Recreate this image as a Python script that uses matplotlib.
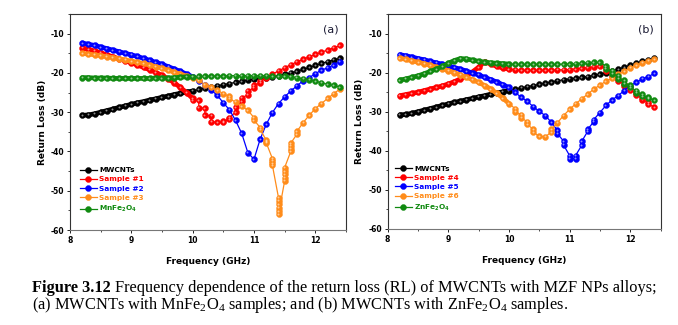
import numpy as np
import matplotlib
matplotlib.use('Agg')
import matplotlib.pyplot as plt
from matplotlib.ticker import MultipleLocator
from matplotlib.transforms import offset_copy

plt.rcParams['font.family'] = 'DejaVu Sans'
plt.rcParams['axes.unicode_minus'] = False

# frequency grids (GHz): smooth part and the measured "bead" part
freq_dense = np.round(np.arange(8.2, 9.95, 0.1), 1)
freq_beads = np.round(np.arange(10.0, 12.45, 0.1), 1)

# ---- panel (a): MWCNTs with MnFe2O4 ----
mwcnt_dense = [-30.8, -30.7, -30.4, -30.0, -29.6, -29.2, -28.8, -28.4, -28.0,
               -27.6, -27.3, -26.9, -26.6, -26.2, -25.9, -25.5, -25.2, -24.9]
mwcnt_beads = [-24.6, -24.2, -23.9, -23.6, -23.3, -23.0, -22.7, -22.4, -22.1,
               -21.8, -21.6, -21.4, -21.2, -21.0, -20.7, -20.4, -20.0, -19.6,
               -19.1, -18.6, -18.1, -17.6, -17.1, -16.7, -16.3]

s1_dense = [-13.6, -14.0, -14.4, -14.9, -15.4, -15.9, -16.4, -16.9, -17.4,
            -18.0, -18.6, -19.2, -19.9, -20.6, -21.5, -22.5, -23.7, -25.0]
s1_beads = [(-26.5, -27.0), (-27.0, -28.9), (-29.0, -30.8), (-30.9, -32.4), -32.6,
            (-32.6, -32.3), (-31.8, -31.4), (-30.0, -28.8), (-27.2, -26.3),
            (-25.6, -24.6), (-23.8, -23.2), (-22.5, -22.0), -21.2, -20.3, -19.5,
            -18.7, -17.9, -17.2, -16.5, -15.9, -15.3, -14.7, -14.2, -13.6, -13.0]

s2_dense = [-12.4, -12.7, -13.0, -13.4, -13.8, -14.2, -14.6, -15.0, -15.4,
            -15.8, -16.3, -16.8, -17.3, -17.8, -18.4, -19.0, -19.6, -20.3]
s2_beads = [-21.0, -22.0, -23.0, -24.3, -25.7, -27.6, -29.4, -32.1, -35.4,
            -40.3, -42.0, -36.9, -33.1, -30.1, -27.8, -26.1, -24.6, -23.3,
            -22.0, -21.2, -20.2, -19.3, -18.7, -18.0, -17.1]

s3_dense = [-15.0, -15.2, -15.4, -15.6, -15.9, -16.1, -16.4, -16.7, -17.0,
            -17.3, -17.6, -18.0, -18.4, -18.8, -19.3, -19.8, -20.3, -20.8]
s3_beads = [-21.3, -21.9, -23.0, -23.7, -24.4, -25.3, (-26.0, -26.6), -27.4,
            -28.5, -29.5, (-31.4, -32.0), (-33.9, -34.4), (-37.1, -37.5, -37.8),
            (-41.8, -42.4, -43.0, -43.5),
            (-51.8, -52.6, -53.5, -54.3, -55.2, -56.0),
            (-47.5, -46.7, -45.8, -45.0, -44.1),
            (-40.0, -39.3, -38.6, -37.9), (-35.6, -34.9),
            -32.7, -30.8, -29.1, -27.8, -26.5, -25.3, -24.1]

mn_dense = [-21.2, -21.2, -21.3, -21.3, -21.3, -21.4, -21.4, -21.4, -21.4,
            -21.4, -21.4, -21.4, -21.3, -21.3, -21.3, -21.2, -21.1, -21.0]
mn_beads = [-21.0, -20.9, -20.9, -20.8, -20.8, -20.8, -20.7, -20.7, -20.7,
            -20.7, -20.7, -20.7, -20.7, -20.8, -20.8, -20.9, -21.0, -21.2,
            -21.5, -21.8, -22.1, -22.5, -22.9, -23.2, -23.6]

# ---- panel (b): MWCNTs with ZnFe2O4 ----
s4_dense = [-25.9, -25.6, -25.3, -25.0, -24.6, -24.2, -23.8, -23.4, -22.9,
            -22.3, -21.6, -20.8, -19.8, -18.6, -17.2, -17.8, -18.4, -18.8]
s4_beads = [-19.1, -19.3, -19.4, -19.4, -19.4, -19.4, -19.4, -19.4, -19.3,
            -19.3, -19.2, -19.1, -18.9, -18.7, -18.5, -18.4, (-18.8, -19.6),
            (-20.2, -20.9), (-21.5, -22.2), (-22.8, -23.5), (-24.0, -24.5),
            (-25.2, -25.8), (-26.4, -26.9), (-27.6, -28.1), -28.8]

s5_dense = [-15.4, -15.7, -16.0, -16.4, -16.7, -17.1, -17.5, -17.8, -18.2,
            -18.7, -19.1, -19.6, -20.1, -20.6, -21.2, -21.8, -22.4, -23.1]
s5_beads = [-23.8, -25.0, -26.3, -27.3, -28.7, -29.9, -31.0, -32.7, (-34.8, -35.6),
            (-37.5, -38.5), (-41.2, -42.0), (-42.0, -41.2), (-38.6, -37.6),
            (-35.0, -34.5), (-32.5, -32.0), -30.2, -28.4, -27.0, -25.9, -24.6,
            -23.3, -22.5, -21.6, -21.0, -20.2]

s6_dense = [-16.3, -16.6, -17.0, -17.3, -17.7, -18.1, -18.6, -19.0, -19.5,
            -20.0, -20.6, -21.2, -21.8, -22.5, -23.3, -24.2, -25.3, -26.5]
s6_beads = [-27.9, (-29.2, -30.0), (-30.8, -31.6), (-32.5, -33.2), (-34.5, -35.2),
            -36.3, -36.4, (-35.2, -34.5), -32.8, -31.0, -29.4, -28.0, -26.7,
            -25.5, -24.2, -23.2, -22.2, -21.4, -20.4, -19.6, -18.8, -18.1,
            -17.5, -17.0, -16.6]

zn_dense = [-21.9, -21.6, -21.2, -20.8, -20.3, -19.7, -19.1, -18.4, -17.6,
            -16.9, -16.4, -16.5, -16.8, -17.1, -17.3, -17.5, -17.6, -17.7]
zn_beads = [-17.8, -17.9, -17.9, -17.9, -17.9, -17.9, -17.9, -17.9, -17.9,
            -17.8, -17.8, -17.7, -17.6, -17.5, -17.4, -17.4, (-18.3, -19.0),
            (-19.5, -20.3), (-20.8, -21.5), (-22.0, -22.8), (-23.2, -23.8),
            (-24.6, -25.2), (-25.5, -26.0), (-26.3, -26.6), -27.0]

labels_a = ['MWCNTs', 'Sample #1', 'Sample #2', 'Sample #3',
            r'MnFe$_\mathregular{2}$O$_\mathregular{4}$']
labels_b = ['MWCNTs', 'Sample #4', 'Sample #5', 'Sample #6',
            r'ZnFe$_\mathregular{2}$O$_\mathregular{4}$']
colors = ['#000000', '#ff0000', '#0000ff', '#ff8c1a', '#108a10']

series_a = [(mwcnt_dense, mwcnt_beads), (s1_dense, s1_beads), (s2_dense, s2_beads),
            (s3_dense, s3_beads), (mn_dense, mn_beads)]
series_b = [(mwcnt_dense, mwcnt_beads), (s4_dense, s4_beads), (s5_dense, s5_beads),
            (s6_dense, s6_beads), (zn_dense, zn_beads)]


def expand(freqs, vals):
    fx, fy = [], []
    for f, v in zip(freqs, vals):
        for y in np.atleast_1d(v):
            fx.append(f)
            fy.append(y)
    return fx, fy


def draw_panel(ax, series, labels, tag, leg_anchor):
    shine = offset_copy(ax.transData, fig=fig, x=-0.35, y=0.35, units='points')
    for i, ((dense, beads), lab, c) in enumerate(zip(series, labels, colors)):
        bx, by = expand(freq_beads, beads)
        z = 3 + i
        # smooth low-frequency part drawn as a thick tube of beads
        ax.plot(list(freq_dense) + bx[:1], list(dense) + by[:1], color=c, lw=3.4,
                solid_capstyle='round', zorder=z)
        ax.plot(list(freq_dense) + bx, list(dense) + by, '-o', color=c, lw=0.9,
                ms=4.3, mew=0.3, label=lab, zorder=z)
        ax.plot(list(freq_dense) + bx, list(dense) + by, 'o', color='white',
                ms=1.4, mec='none', alpha=0.55, transform=shine, zorder=z)

    ax.set_xlim(8, 12.5)
    ax.set_ylim(-60, -5)
    ax.xaxis.set_major_locator(MultipleLocator(1))
    ax.xaxis.set_minor_locator(MultipleLocator(0.5))
    ax.yaxis.set_major_locator(MultipleLocator(10))
    ax.yaxis.set_minor_locator(MultipleLocator(5))
    ax.tick_params(which='major', direction='out', length=2.5, width=0.6,
                   labelsize=5.5, pad=1.5)
    ax.tick_params(which='minor', direction='out', length=1.5, width=0.5)
    for lab in ax.get_xticklabels() + ax.get_yticklabels():
        lab.set_fontweight('bold')
    for s in ax.spines.values():
        s.set_linewidth(0.8)
        s.set_color('#333333')
    ax.spines['bottom'].set_color('#777777')
    ax.set_xlabel('Frequency (GHz)', fontsize=6.5, fontweight='bold', labelpad=9)
    ax.set_ylabel('Return Loss (dB)', fontsize=6.5, fontweight='bold', labelpad=3)
    ax.text(0.975, 0.95, tag, transform=ax.transAxes, ha='right', va='top',
            fontsize=8, color='#1a1a33')
    ax.legend(loc='center left', bbox_to_anchor=leg_anchor, frameon=False,
              prop={'size': 5.3, 'weight': 'bold'}, labelcolor='linecolor',
              handlelength=2.3, handletextpad=0.3, labelspacing=0.42,
              borderpad=0.3)


fig = plt.figure(figsize=(6.78, 3.25), dpi=100)
ax_a = fig.add_axes([0.1032, 0.2923, 0.4071, 0.6646])
ax_b = fig.add_axes([0.5718, 0.2954, 0.4024, 0.6615])
draw_panel(ax_a, series_a, labels_a, '(a)', (0.015, 0.182))
draw_panel(ax_b, series_b, labels_b, '(b)', (0.005, 0.186))

# caption
cap_kw = dict(family='Liberation Serif', fontsize=11.8, va='baseline')
t1 = fig.text(0.047, 0.10, 'Figure 3.12', fontweight='bold', **cap_kw)
fig.canvas.draw()
x_end = t1.get_window_extent().x1 / fig.bbox.width + 0.007
fig.text(x_end, 0.10, 'Frequency dependence of the return loss (RL) of MWCNTs '
         'with MZF NPs alloys;', **cap_kw)
fig.text(0.047, 0.048, r'(a) MWCNTs with MnFe$_\mathregular{2}$O$_\mathregular{4}$ '
         r'samples; and (b) MWCNTs with ZnFe$_\mathregular{2}$O$_\mathregular{4}$ samples.',
         **cap_kw)

fig.savefig('out.png', dpi=100)
plt.close(fig)
